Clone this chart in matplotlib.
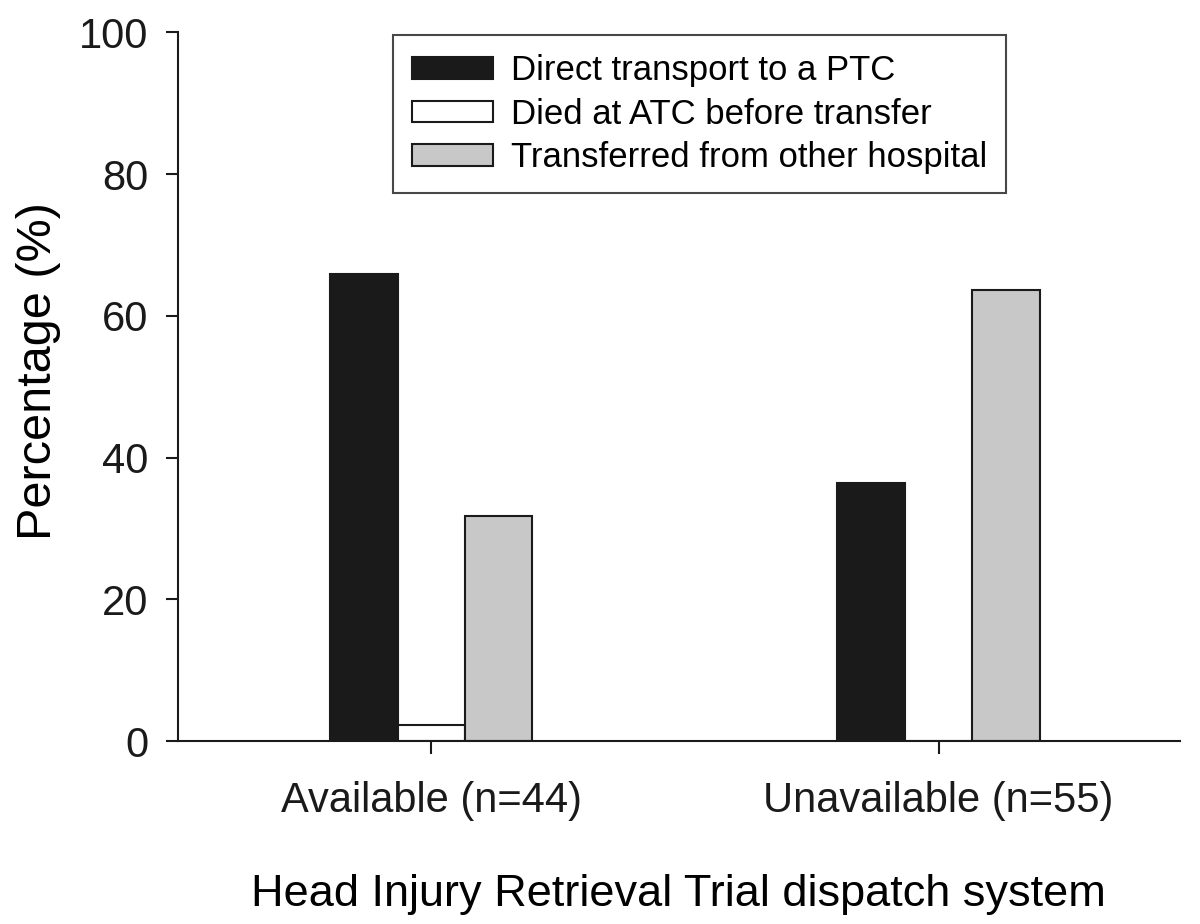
import matplotlib.pyplot as plt
import numpy as np

plt.rcParams['font.family'] = ['Liberation Sans', 'DejaVu Sans']

# Data (percent of patients)
groups = ["Available (n=44)", "Unavailable (n=55)"]
direct_ptc = [65.9, 36.4]
died_atc = [2.3, 0.0]
transferred = [31.8, 63.6]
series_names = ["Direct transport to a PTC", "Died at ATC before transfer",
                "Transferred from other hospital"]
y_ticks = [0, 20, 40, 60, 80, 100]

fig = plt.figure(figsize=(12, 9.24), dpi=100)
ax = fig.add_axes([0.148, 0.198, 0.835, 0.767])

x = np.arange(len(groups))
w = 0.133
colors = ["#1a1a1a", "#ffffff", "#c8c8c8"]
for i, (vals, name, c) in enumerate(zip([direct_ptc, died_atc, transferred], series_names, colors)):
    ax.bar(x + (i - 1) * w, vals, w, color=c, edgecolor="#1a1a1a", linewidth=1.5, label=name)

ax.set_xlim(-0.5, 1.475)
ax.set_ylim(0, 100)
ax.set_yticks(y_ticks)
ax.set_xticks(x)
ax.set_xticklabels(groups)

for s in ["top", "right"]:
    ax.spines[s].set_visible(False)
for s in ["left", "bottom"]:
    ax.spines[s].set_linewidth(1.5)
    ax.spines[s].set_color("#1a1a1a")

ax.tick_params(axis="both", direction="out", length=9, width=1.5, labelsize=30, colors="#1a1a1a")
ax.tick_params(axis="y", pad=12)
ax.tick_params(axis="x", pad=20)

ax.set_ylabel("Percentage (%)", fontsize=35)
ax.yaxis.set_label_coords(-0.116, 0.522)
ax.set_xlabel("Head Injury Retrieval Trial dispatch system", fontsize=32.5, labelpad=38)

ax.legend(loc="upper left", bbox_to_anchor=(0.2146, 0.996), fontsize=25, frameon=True,
          fancybox=False, edgecolor="#1a1a1a", handlelength=2.35, handleheight=0.58,
          handletextpad=0.5, borderpad=0.55, labelspacing=0.3, borderaxespad=0)
ax.get_legend().get_frame().set_linewidth(1.5)

fig.savefig("out.png", dpi=100)
